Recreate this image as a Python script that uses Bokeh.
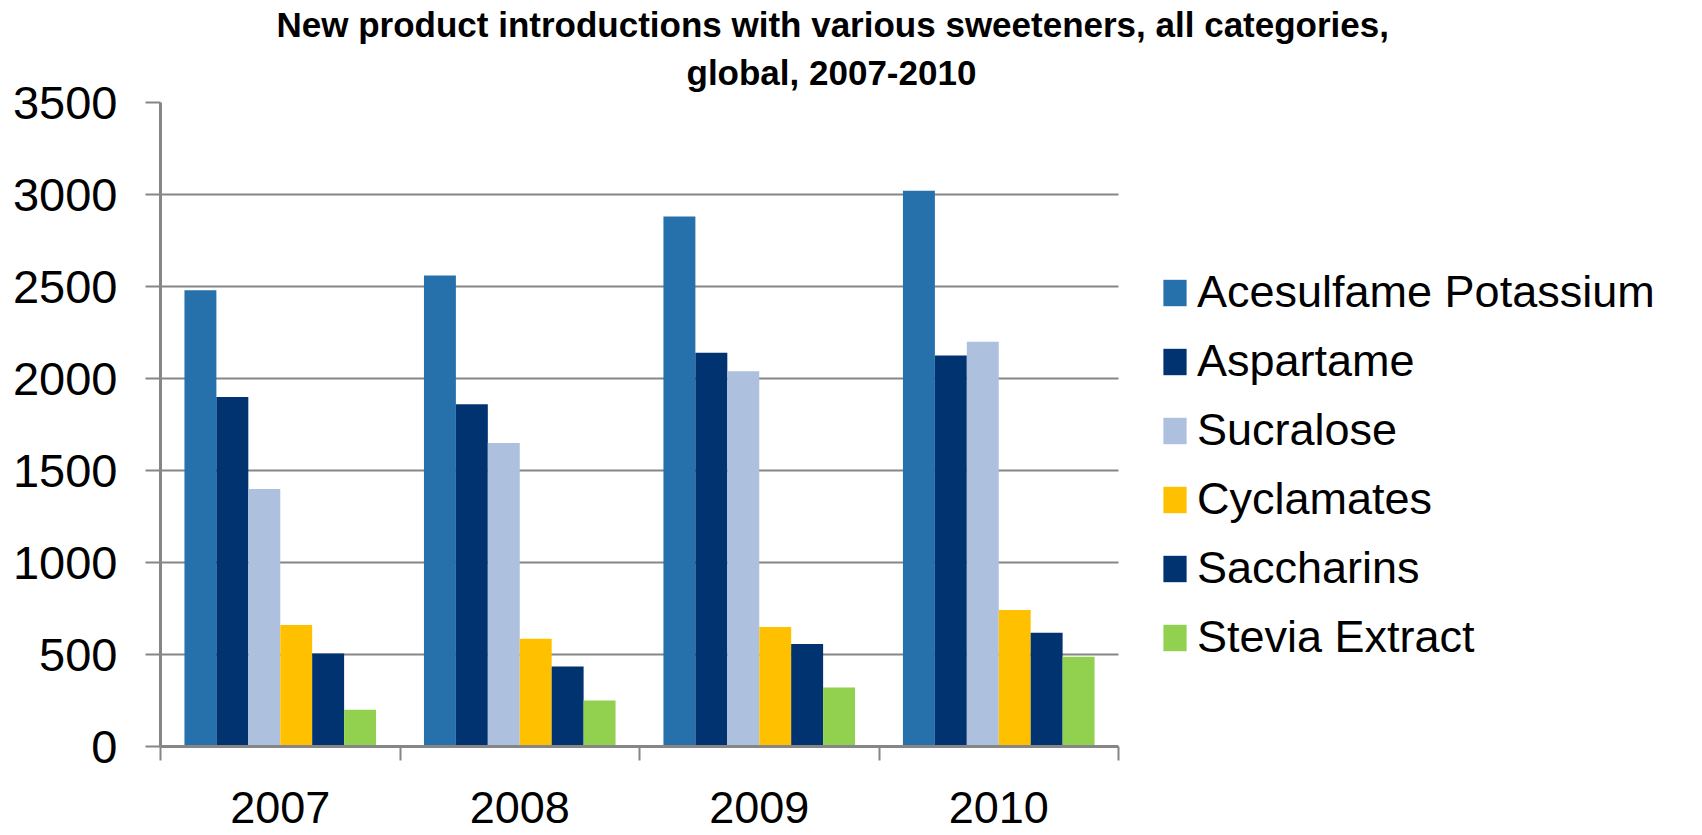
from bokeh.plotting import figure
from bokeh.models import Range1d, FixedTicker, Legend, LegendItem, Title, ColumnDataSource
from bokeh.embed import file_html
from bokeh.resources import INLINE

years = ["2007", "2008", "2009", "2010"]
series_names = ["Acesulfame Potassium", "Aspartame", "Sucralose",
                "Cyclamates", "Saccharins", "Stevia Extract"]
acesulfame = [2480, 2560, 2880, 3020]
aspartame = [1900, 1860, 2140, 2125]
sucralose = [1400, 1650, 2040, 2200]
cyclamates = [660, 585, 650, 742]
saccharins = [505, 435, 557, 618]
stevia = [200, 250, 320, 488]
series_values = [acesulfame, aspartame, sucralose, cyclamates, saccharins, stevia]
colors = ["#2670AB", "#003370", "#ADC0DE", "#FFC000", "#003370", "#92D050"]
y_ticks = [0, 500, 1000, 1500, 2000, 2500, 3000, 3500]

GRAY = "#868686"
FONT = "Liberation Sans"

W, H = 1702, 835
LEFT, TOP, BOTTOM = 160, 102, 89
PLOT_W = 958                      # width of the bar area in px
n_cat = len(years)
x_start = -0.5
x_end_bars = x_start + n_cat
# frame extends over the legend area to the right; the bar area stays PLOT_W wide
x_end = x_start + n_cat * (W - LEFT) / PLOT_W

p = figure(width=W, height=H, output_backend="svg", toolbar_location=None,
           x_range=Range1d(x_start, x_end), y_range=Range1d(0, 3500),
           min_border_left=LEFT, min_border_right=0, min_border_top=TOP,
           min_border_bottom=BOTTOM)
p.outline_line_color = None
p.background_fill_color = "white"
p.border_fill_color = "white"

group = 0.8
bw = group / len(series_names)
renderers = []
for k, (name, vals, col) in enumerate(zip(series_names, series_values, colors)):
    off = (k - (len(series_names) - 1) / 2) * bw
    src = ColumnDataSource(dict(x=[i + off for i in range(n_cat)], top=vals))
    r = p.vbar(x="x", top="top", bottom=0, width=bw, source=src,
               fill_color=col, line_color=None)
    renderers.append((name, r))

# titles (line 2 added as layout, closer to frame; main title above it)
p.title.text = "New product introductions with various sweeteners, all categories,"
p.title.align = "left"
p.title.offset = 116
p.title.text_font = FONT
p.title.text_font_size = "35px"
p.title.text_font_style = "bold"
p.title.text_color = "black"
p.title.standoff = -6
t2 = Title(text="global, 2007-2010", align="left", offset=526, text_font=FONT,
           text_font_size="35px", text_font_style="bold", text_color="black",
           standoff=21)
p.add_layout(t2, "above")

# y axis
yax = p.yaxis[0]
yax.ticker = FixedTicker(ticks=y_ticks)
yax.major_label_text_font = FONT
yax.major_label_text_font_size = "47px"
yax.major_label_text_color = "black"
yax.major_tick_out = 15
yax.major_tick_in = 0
yax.major_tick_line_color = GRAY
yax.major_tick_line_width = 2
yax.minor_tick_line_color = None
yax.axis_line_color = GRAY
yax.axis_line_width = 3
yax.major_label_standoff = 28

# x axis: labels at category centres, ticks at category boundaries
xax = p.xaxis[0]
xax.bounds = (x_start, x_end_bars)
xax.ticker = FixedTicker(ticks=list(range(n_cat)),
                         minor_ticks=[x_start + i for i in range(n_cat + 1)])
xax.major_label_overrides = {i: y for i, y in enumerate(years)}
xax.major_label_text_font = FONT
xax.major_label_text_font_size = "45px"
xax.major_label_text_color = "black"
xax.major_tick_line_color = None
xax.major_tick_out = 0
xax.major_tick_in = 0
xax.minor_tick_out = 14
xax.minor_tick_in = 0
xax.minor_tick_line_color = GRAY
xax.minor_tick_line_width = 2
xax.axis_line_color = GRAY
xax.axis_line_width = 3
xax.major_label_standoff = 31

p.ygrid.grid_line_color = GRAY
p.ygrid.grid_line_width = 2
p.ygrid.cross_bounds = (x_start, x_end_bars)
p.xgrid.visible = False

legend = Legend(items=[LegendItem(label=n, renderers=[r]) for n, r in renderers],
                location=(PLOT_W + 42, 83), ncols=1, label_text_font=FONT,
                label_text_font_size="45px", label_text_color="black",
                glyph_width=29, glyph_height=33, label_standoff=8, spacing=17,
                padding=0, margin=0, border_line_color=None,
                background_fill_alpha=0)
p.add_layout(legend, "center")

open("out.html", "w").write(file_html(p, INLINE))
